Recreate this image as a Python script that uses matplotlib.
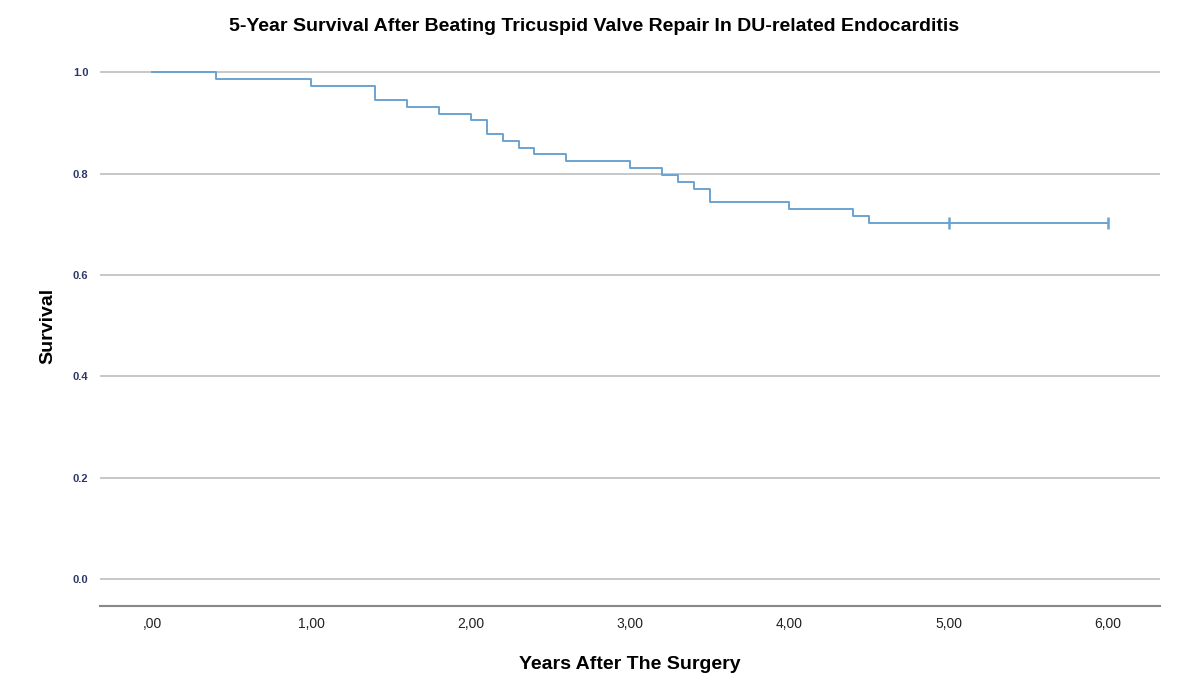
import numpy as np
import matplotlib.pyplot as plt

plt.rcParams['font.family'] = ['Liberation Sans', 'DejaVu Sans']

# Kaplan-Meier steps
times = [0.0, 0.4, 1.0, 1.4, 1.6, 1.8, 2.0, 2.1, 2.2, 2.3, 2.4, 2.6, 3.0, 3.2, 3.3, 3.4, 3.5, 4.0, 4.4, 4.5, 6.0]
surv = [1.0, 0.986, 0.973, 0.945, 0.932, 0.918, 0.905, 0.878, 0.865, 0.851, 0.838, 0.824, 0.811, 0.797, 0.784, 0.770, 0.743, 0.730, 0.716, 0.703, 0.703]
censor_t = [5.0, 6.0]
censor_s = [0.703, 0.703]

yticks = [0.0, 0.2, 0.4, 0.6, 0.8, 1.0]
xticks = [0, 1, 2, 3, 4, 5, 6]
xlabels = [',00', '1,00', '2,00', '3,00', '4,00', '5,00', '6,00']

fig = plt.figure(figsize=(12, 6.85), dpi=100)
ax = fig.add_axes([0.083, 0.115, 0.884, 0.819])

col = '#6aa3d2'
ax.step(times, surv, where='post', color=col, lw=1.4)
ax.plot(censor_t, censor_s, '|', color=col, ms=9, mew=1.8)

ax.set_xlim(-0.33, 6.33)
ax.set_ylim(-0.053, 1.053)
ax.set_yticks(yticks)
ax.set_yticklabels([f'{v:.1f}' for v in yticks], fontsize=8, fontweight='bold', color='#2e3766')
ax.set_xticks(xticks)
ax.set_xticklabels(xlabels, fontsize=10, color='#222222')
ax.tick_params(length=0, pad=8)
ax.grid(axis='y', color='#bdbdbd', lw=1.2)
ax.set_axisbelow(True)
for s in ['top', 'right', 'left']:
    ax.spines[s].set_visible(False)
ax.spines['bottom'].set_color('#888888')
ax.spines['bottom'].set_linewidth(1.5)

ax.set_xlabel('Years After The Surgery', fontsize=14, fontweight='bold', labelpad=18)
ax.set_ylabel('Survival', fontsize=14, fontweight='bold', labelpad=12)
fig.text(0.495, 0.955, '5-Year Survival After Beating Tricuspid Valve Repair In DU-related Endocarditis',
         ha='center', fontsize=14, fontweight='bold')

fig.savefig('out.png')
